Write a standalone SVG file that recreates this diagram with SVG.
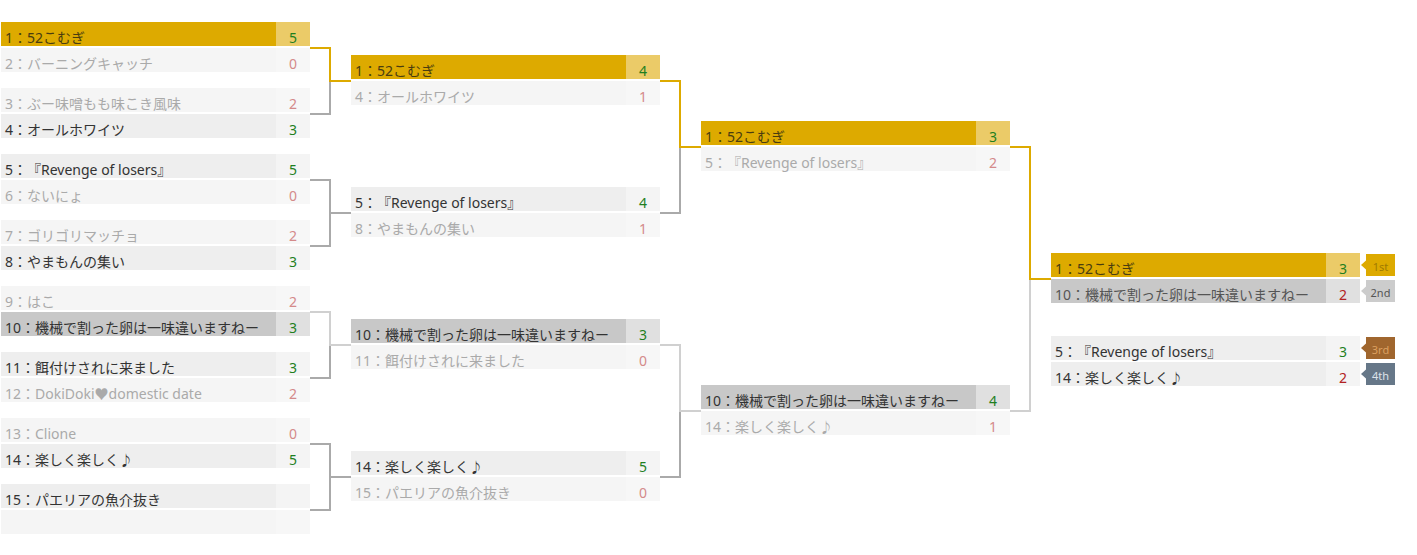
<svg xmlns="http://www.w3.org/2000/svg" width="1417" height="555" viewBox="0 0 1417 555">
<style>
text{font-family:"Noto Sans","Noto Sans CJK JP",sans-serif;font-size:14px;text-spacing-trim:space-all}
.ng{fill:#ddaa00}.sg{fill:#ebcb68}
.nsv{fill:#c8c8c8}.ssv{fill:#e0e0e0}
.nw{fill:#eeeeee}.sw{fill:#f4f4f4}
.nl{fill:#f5f5f5}.sl{fill:#f7f7f7}
.tg{fill:#4a3d10}.tw{fill:#333333}.tl{fill:#aaaaaa}.tf{fill:#555555}
.sc{text-anchor:middle}
.win{fill:#1f7f1f}.lose{fill:#d48a8a}.loss{fill:#b22222}
.ln{fill:none;stroke-width:2}
.grey{stroke:#aaaaaa}.light{stroke:#d0d0d0}.goldl{stroke:#ddaa00}
.bt{font-size:11px;text-anchor:middle}
</style>
<g id="connectors">
<path class="ln grey" d="M310 114H330V81"/>
<path class="ln grey" d="M310 180H330V213H351M310 246H330V213"/>
<path class="ln grey" d="M310 378H330V345"/>
<path class="ln grey" d="M310 444H330V477H351M310 510H330V477"/>
<path class="ln grey" d="M660 213H680V147"/>
<path class="ln grey" d="M660 477H680V411"/>
<path class="ln light" d="M310 312H330V345H351"/>
<path class="ln light" d="M660 345H680V411H701"/>
<path class="ln light" d="M1010 411H1030V279"/>
<path class="ln goldl" d="M310 48H330V81H351"/>
<path class="ln goldl" d="M660 81H680V147H701"/>
<path class="ln goldl" d="M1010 147H1030V279H1051"/>
</g>
<g id="r1-m1">
<rect class="ng" x="1" y="22" width="275" height="24"/><rect class="sg" x="276" y="22" width="34" height="24"/>
<text class="tg" x="5" y="43">1：52こむぎ</text><text class="sc win" x="293" y="43">5</text>
<rect class="nl" x="1" y="48" width="275" height="24"/><rect class="sl" x="276" y="48" width="34" height="24"/>
<text class="tl" x="5" y="69">2：バーニングキャッチ</text><text class="sc lose" x="293" y="69">0</text>
</g>
<g id="r1-m2">
<rect class="nl" x="1" y="88" width="275" height="24"/><rect class="sl" x="276" y="88" width="34" height="24"/>
<text class="tl" x="5" y="109">3：ぶー味噌もも味こき風味</text><text class="sc lose" x="293" y="109">2</text>
<rect class="nw" x="1" y="114" width="275" height="24"/><rect class="sw" x="276" y="114" width="34" height="24"/>
<text class="tw" x="5" y="135">4：オールホワイツ</text><text class="sc win" x="293" y="135">3</text>
</g>
<g id="r1-m3">
<rect class="nw" x="1" y="154" width="275" height="24"/><rect class="sw" x="276" y="154" width="34" height="24"/>
<text class="tw" x="5" y="175">5：『Revenge of losers』</text><text class="sc win" x="293" y="175">5</text>
<rect class="nl" x="1" y="180" width="275" height="24"/><rect class="sl" x="276" y="180" width="34" height="24"/>
<text class="tl" x="5" y="201">6：ないにょ</text><text class="sc lose" x="293" y="201">0</text>
</g>
<g id="r1-m4">
<rect class="nl" x="1" y="220" width="275" height="24"/><rect class="sl" x="276" y="220" width="34" height="24"/>
<text class="tl" x="5" y="241">7：ゴリゴリマッチョ</text><text class="sc lose" x="293" y="241">2</text>
<rect class="nw" x="1" y="246" width="275" height="24"/><rect class="sw" x="276" y="246" width="34" height="24"/>
<text class="tw" x="5" y="267">8：やまもんの集い</text><text class="sc win" x="293" y="267">3</text>
</g>
<g id="r1-m5">
<rect class="nl" x="1" y="286" width="275" height="24"/><rect class="sl" x="276" y="286" width="34" height="24"/>
<text class="tl" x="5" y="307">9：はこ</text><text class="sc lose" x="293" y="307">2</text>
<rect class="nsv" x="1" y="312" width="275" height="24"/><rect class="ssv" x="276" y="312" width="34" height="24"/>
<text class="tw" x="5" y="333">10：機械で割った卵は一味違いますねー</text><text class="sc win" x="293" y="333">3</text>
</g>
<g id="r1-m6">
<rect class="nw" x="1" y="352" width="275" height="24"/><rect class="sw" x="276" y="352" width="34" height="24"/>
<text class="tw" x="5" y="373">11：餌付けされに来ました</text><text class="sc win" x="293" y="373">3</text>
<rect class="nl" x="1" y="378" width="275" height="24"/><rect class="sl" x="276" y="378" width="34" height="24"/>
<text class="tl" x="5" y="399">12：DokiDoki♥domestic date</text><text class="sc lose" x="293" y="399">2</text>
</g>
<g id="r1-m7">
<rect class="nl" x="1" y="418" width="275" height="24"/><rect class="sl" x="276" y="418" width="34" height="24"/>
<text class="tl" x="5" y="439">13：Clione</text><text class="sc lose" x="293" y="439">0</text>
<rect class="nw" x="1" y="444" width="275" height="24"/><rect class="sw" x="276" y="444" width="34" height="24"/>
<text class="tw" x="5" y="465">14：楽しく楽しく♪</text><text class="sc win" x="293" y="465">5</text>
</g>
<g id="r1-m8">
<rect class="nw" x="1" y="484" width="275" height="24"/><rect class="sw" x="276" y="484" width="34" height="24"/>
<text class="tw" x="5" y="505">15：パエリアの魚介抜き</text>
<rect class="nl" x="1" y="510" width="275" height="24"/><rect class="sl" x="276" y="510" width="34" height="24"/>
</g>
<g id="r2-m1">
<rect class="ng" x="351" y="55" width="275" height="24"/><rect class="sg" x="626" y="55" width="34" height="24"/>
<text class="tg" x="355" y="76">1：52こむぎ</text><text class="sc win" x="643" y="76">4</text>
<rect class="nl" x="351" y="81" width="275" height="24"/><rect class="sl" x="626" y="81" width="34" height="24"/>
<text class="tl" x="355" y="102">4：オールホワイツ</text><text class="sc lose" x="643" y="102">1</text>
</g>
<g id="r2-m2">
<rect class="nw" x="351" y="187" width="275" height="24"/><rect class="sw" x="626" y="187" width="34" height="24"/>
<text class="tw" x="355" y="208">5：『Revenge of losers』</text><text class="sc win" x="643" y="208">4</text>
<rect class="nl" x="351" y="213" width="275" height="24"/><rect class="sl" x="626" y="213" width="34" height="24"/>
<text class="tl" x="355" y="234">8：やまもんの集い</text><text class="sc lose" x="643" y="234">1</text>
</g>
<g id="r2-m3">
<rect class="nsv" x="351" y="319" width="275" height="24"/><rect class="ssv" x="626" y="319" width="34" height="24"/>
<text class="tw" x="355" y="340">10：機械で割った卵は一味違いますねー</text><text class="sc win" x="643" y="340">3</text>
<rect class="nl" x="351" y="345" width="275" height="24"/><rect class="sl" x="626" y="345" width="34" height="24"/>
<text class="tl" x="355" y="366">11：餌付けされに来ました</text><text class="sc lose" x="643" y="366">0</text>
</g>
<g id="r2-m4">
<rect class="nw" x="351" y="451" width="275" height="24"/><rect class="sw" x="626" y="451" width="34" height="24"/>
<text class="tw" x="355" y="472">14：楽しく楽しく♪</text><text class="sc win" x="643" y="472">5</text>
<rect class="nl" x="351" y="477" width="275" height="24"/><rect class="sl" x="626" y="477" width="34" height="24"/>
<text class="tl" x="355" y="498">15：パエリアの魚介抜き</text><text class="sc lose" x="643" y="498">0</text>
</g>
<g id="r3-m1">
<rect class="ng" x="701" y="121" width="275" height="24"/><rect class="sg" x="976" y="121" width="34" height="24"/>
<text class="tg" x="705" y="142">1：52こむぎ</text><text class="sc win" x="993" y="142">3</text>
<rect class="nl" x="701" y="147" width="275" height="24"/><rect class="sl" x="976" y="147" width="34" height="24"/>
<text class="tl" x="705" y="168">5：『Revenge of losers』</text><text class="sc lose" x="993" y="168">2</text>
</g>
<g id="r3-m2">
<rect class="nsv" x="701" y="385" width="275" height="24"/><rect class="ssv" x="976" y="385" width="34" height="24"/>
<text class="tw" x="705" y="406">10：機械で割った卵は一味違いますねー</text><text class="sc win" x="993" y="406">4</text>
<rect class="nl" x="701" y="411" width="275" height="24"/><rect class="sl" x="976" y="411" width="34" height="24"/>
<text class="tl" x="705" y="432">14：楽しく楽しく♪</text><text class="sc lose" x="993" y="432">1</text>
</g>
<g id="final">
<rect class="ng" x="1051" y="253" width="275" height="24"/><rect class="sg" x="1326" y="253" width="34" height="24"/>
<text class="tg" x="1055" y="274">1：52こむぎ</text><text class="sc win" x="1343" y="274">3</text>
<rect class="nsv" x="1051" y="279" width="275" height="24"/><rect class="ssv" x="1326" y="279" width="34" height="24"/>
<text class="tf" x="1055" y="300">10：機械で割った卵は一味違いますねー</text><text class="sc loss" x="1343" y="300">2</text>
</g>
<g id="third-place">
<rect class="nw" x="1051" y="336" width="275" height="24"/><rect class="sw" x="1326" y="336" width="34" height="24"/>
<text class="tw" x="1055" y="357">5：『Revenge of losers』</text><text class="sc win" x="1343" y="357">3</text>
<rect class="nw" x="1051" y="362" width="275" height="24"/><rect class="sw" x="1326" y="362" width="34" height="24"/>
<text class="tw" x="1055" y="383">14：楽しく楽しく♪</text><text class="sc loss" x="1343" y="383">2</text>
</g>
<g id="badge-1st">
<polygon points="1366,260.5 1361,265 1366,269.5" fill="#ddaa00"/>
<rect x="1366" y="254" width="29" height="22" fill="#ddaa00"/>
<text class="bt" x="1380.5" y="271" fill="#a07a00">1st</text>
</g>
<g id="badge-2nd">
<polygon points="1366,286.5 1361,291 1366,295.5" fill="#cccccc"/>
<rect x="1366" y="280" width="29" height="22" fill="#cccccc"/>
<text class="bt" x="1380.5" y="297" fill="#555555">2nd</text>
</g>
<g id="badge-3rd">
<polygon points="1366,343.5 1361,348 1366,352.5" fill="#a0662e"/>
<rect x="1366" y="337" width="29" height="22" fill="#a0662e"/>
<text class="bt" x="1380.5" y="354" fill="#dca060">3rd</text>
</g>
<g id="badge-4th">
<polygon points="1366,369.5 1361,374 1366,378.5" fill="#667788"/>
<rect x="1366" y="363" width="29" height="22" fill="#667788"/>
<text class="bt" x="1380.5" y="380" fill="#dde3ea">4th</text>
</g>
</svg>
